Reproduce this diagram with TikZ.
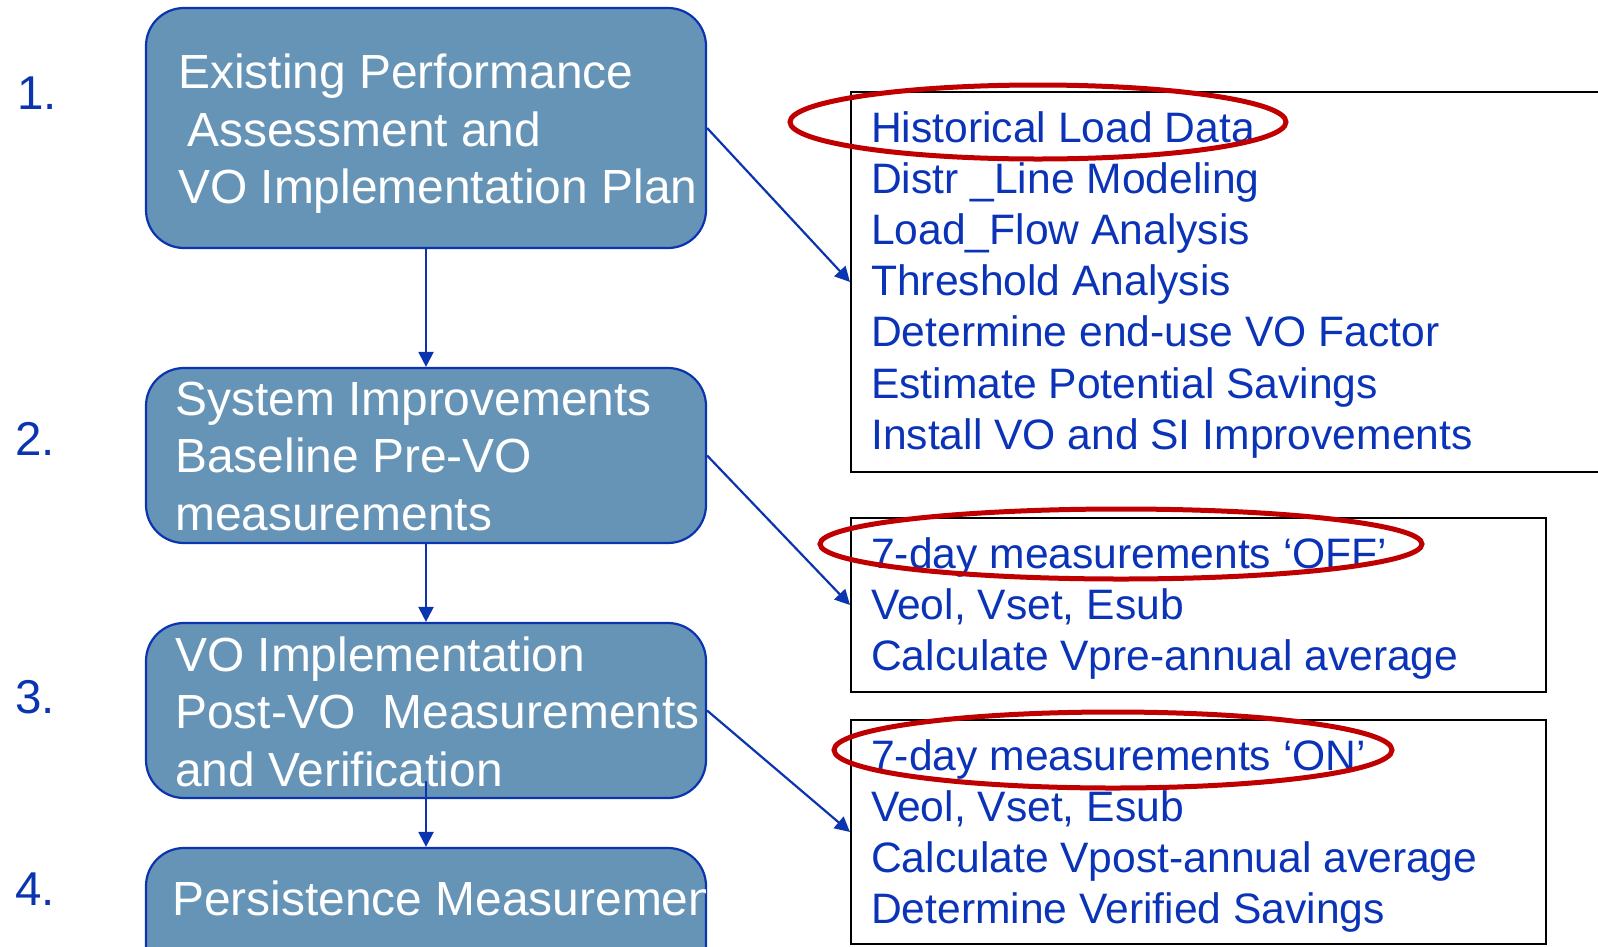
\documentclass[tikz,border=0pt]{standalone}
\usepackage{fontspec}
\setmainfont{Liberation Sans}
\usetikzlibrary{arrows.meta}
\definecolor{boxfill}{HTML}{6694B7}
\definecolor{navy}{HTML}{0B35B0}
\definecolor{txtblue}{HTML}{0A33B8}
\definecolor{ringred}{HTML}{C00000}
\begin{document}
\begin{tikzpicture}[x=1pt,y=-1pt,
 stepbox/.style={draw=navy, line width=2.2pt, fill=boxfill, rounded corners=38pt, minimum width=560pt, inner sep=0pt},
 listbox/.style={draw=black, line width=2pt, inner sep=0pt},
 ltext/.style={anchor=base west, inner sep=0pt, text=white, font=\fontsize{47.9}{57}\selectfont},
 rtext/.style={anchor=base west, inner sep=0pt, text=txtblue, font=\fontsize{42.6}{51}\selectfont},
 num/.style={anchor=base west, inner sep=0pt, text=navy, font=\fontsize{47.5}{57}\selectfont},
 flow/.style={draw=navy, line width=2.2pt, -{Triangle[length=15pt,width=15pt]}},
 ring/.style={draw=ringred, line width=5pt}]
\useasboundingbox (0,0) rectangle (1598,946);
\clip (0,0) rectangle (1598,946);

% step boxes
\node[stepbox, minimum height=240pt] (b1) at (426,128) {};
\node[stepbox, minimum height=175pt] (b2) at (426,455.5) {};
\node[stepbox, minimum height=175pt] (b3) at (426,710.5) {};
\node[stepbox, minimum height=152pt] (b4) at (426,924) {};

% list boxes
\node[listbox, minimum width=769pt, minimum height=380pt] (r1) at (1235.5,282) {};
\node[listbox, minimum width=695pt, minimum height=174pt] (r2) at (1198.5,605) {};
\node[listbox, minimum width=695pt, minimum height=224pt] (r3) at (1198.5,832) {};

% numbers
\node[num] (n1) at (17,109) {1.};
\node[num] (n2) at (15,455) {2.};
\node[num] (n3) at (15,713) {3.};
\node[num] (n4) at (15,905) {4.};

% step texts
\node[ltext] (t11) at (178,88) {Existing Performance};
\node[ltext] (t12) at (187,146) {Assessment and};
\node[ltext] (t13) at (178,203) {VO Implementation Plan};
\node[ltext] (t21) at (175,415) {System Improvements};
\node[ltext] (t22) at (175,472) {Baseline Pre-VO};
\node[ltext] (t23) at (175,530) {measurements};
\node[ltext] (t31) at (175,671) {VO Implementation};
\node[ltext] (t32) at (175,728) {Post-VO\ \ Measurements};
\node[ltext] (t33) at (175,786) {and Verification};
\begin{scope}
\clip (146,848) rectangle (705,946);
\node[ltext] (t41) at (172,915) {Persistence Measurements};
\end{scope}

% list texts
\node[rtext] (s11) at (871,142) {Historical Load Data};
\node[rtext] (s12) at (871,193) {Distr \_Line Modeling};
\node[rtext] (s13) at (871,244) {Load\_Flow Analysis};
\node[rtext] (s14) at (871,295) {Threshold Analysis};
\node[rtext] (s15) at (871,346) {Determine end-use VO Factor};
\node[rtext] (s16) at (871,398) {Estimate Potential Savings};
\node[rtext] (s17) at (871,449) {Install VO and SI Improvements};
\node[rtext] (s21) at (871,568) {7-day measurements ‘OFF’};
\node[rtext] (s22) at (871,619) {Veol, Vset, Esub};
\node[rtext] (s23) at (871,670) {Calculate Vpre-annual average};
\node[rtext] (s31) at (871,770) {7-day measurements ‘ON’};
\node[rtext] (s32) at (871,821) {Veol, Vset, Esub};
\node[rtext] (s33) at (871,872) {Calculate Vpost-annual average};
\node[rtext] (s34) at (871,923) {Determine Verified Savings};

% connectors
\draw[flow] (b1.south) -- (b2.north);
\draw[flow] (b2.south) -- (b3.north);
\draw[flow, shorten <=-18pt] (b3.south) -- (b4.north);
\draw[flow] (b1.east) -- (r1.west);
\draw[flow] (b2.east) -- (r2.west);
\draw[flow] (b3.east) -- (r3.west);

% red rings
\draw[ring] (1038,122) ellipse [x radius=248pt, y radius=37pt];
\draw[ring] (1121,544) ellipse [x radius=301pt, y radius=35pt];
\draw[ring] (1113,750) ellipse [x radius=279pt, y radius=38pt];
\end{tikzpicture}
\end{document}
